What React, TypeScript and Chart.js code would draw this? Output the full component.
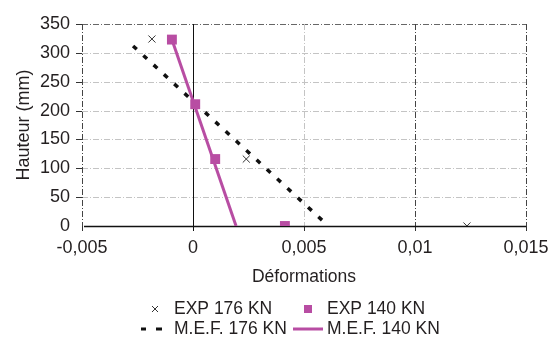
import React, { useEffect, useRef } from "react";
import { Chart, registerables } from "chart.js";

Chart.register(...registerables);

const exp176X = [-0.00185, 0.0024, 0.01234];
const exp176Y = [324, 116, 0];
const exp140X = [-0.00095, 0.0001, 0.001, 0.00414];
const exp140Y = [323, 211, 116, 0];
const mef176X = [-0.0027, 0.0061];
const mef176Y = [312, 0];
const mef140X = [-0.00095, 0.00194];
const mef140Y = [323, 0];

const seriesLabels = ["EXP 176 KN", "EXP 140 KN", "M.E.F. 176 KN", "M.E.F. 140 KN"];
const xTitle = "Déformations";
const yTitle = "Hauteur (mm)";

const MAGENTA = "#B84DA3";
const DARK = "#231F20";
const FONT = "'Liberation Sans', Arial, sans-serif";

const pts = (xs: number[], ys: number[]) => xs.map((x, i) => ({ x, y: ys[i] }));

const gridPlugin = {
  id: "customGrid",
  beforeDatasetsDraw(chart: any) {
    const { ctx, scales } = chart;
    const xs = scales.x;
    const ys = scales.y;
    const left = xs.left, right = xs.right, top = ys.top, bottom = ys.bottom;
    ctx.save();
    ctx.lineWidth = 1;
    ys.ticks.forEach((t: any) => {
      const y = Math.round(ys.getPixelForValue(t.value)) + 0.5;
      if (t.value === 0) return;
      const isTop = t.value === ys.max;
      ctx.strokeStyle = isTop ? "#666" : "#c4c4c4";
      ctx.setLineDash([6, 2, 1, 2]);
      ctx.beginPath();
      ctx.moveTo(left, y);
      ctx.lineTo(right, y);
      ctx.stroke();
      ctx.setLineDash([]);
      ctx.strokeStyle = "#333";
      ctx.beginPath();
      ctx.moveTo(left - 6, y);
      ctx.lineTo(left, y);
      ctx.stroke();
    });
    xs.ticks.forEach((t: any) => {
      const x = Math.round(xs.getPixelForValue(t.value)) + 0.5;
      const v = Math.round(t.value * 10000) / 10000;
      if (v === 0) return;
      const dark = v !== 0.005;
      ctx.strokeStyle = dark ? "#444" : "#c4c4c4";
      ctx.setLineDash([6, 2, 1, 2]);
      ctx.beginPath();
      ctx.moveTo(x, top);
      ctx.lineTo(x, bottom);
      ctx.stroke();
      ctx.setLineDash([]);
      ctx.strokeStyle = "#333";
      ctx.beginPath();
      ctx.moveTo(x, bottom);
      ctx.lineTo(x, bottom + 5);
      ctx.stroke();
    });
    ctx.setLineDash([]);
    const x0 = Math.round(xs.getPixelForValue(0)) + 0.5;
    ctx.strokeStyle = "#111";
    ctx.beginPath();
    ctx.moveTo(x0, top);
    ctx.lineTo(x0, bottom + 5);
    ctx.stroke();
    const y0 = Math.round(ys.getPixelForValue(0)) + 0.5;
    ctx.lineWidth = 1.3;
    ctx.beginPath();
    ctx.moveTo(left + 2, y0);
    ctx.lineTo(right, y0);
    ctx.stroke();
    ctx.restore();
  },
};

const legendPlugin = {
  id: "customLegend",
  afterDraw(chart: any) {
    const { ctx } = chart;
    ctx.save();
    ctx.font = `17.5px ${FONT}`;
    ctx.fillStyle = DARK;
    ctx.textBaseline = "middle";
    ctx.textAlign = "left";
    const row1 = 309;
    const row2 = 329;
    const col1Text = 174;
    const col2Text = 327;
    ctx.strokeStyle = "#333";
    ctx.lineWidth = 1;
    const cx = 155, cy = row1;
    ctx.beginPath();
    ctx.moveTo(cx - 3, cy - 3);
    ctx.lineTo(cx + 3, cy + 3);
    ctx.moveTo(cx + 3, cy - 3);
    ctx.lineTo(cx - 3, cy + 3);
    ctx.stroke();
    ctx.fillText(seriesLabels[0], col1Text, row1);
    ctx.fillStyle = MAGENTA;
    ctx.fillRect(304, row1 - 4, 8, 8);
    ctx.fillStyle = DARK;
    ctx.fillText(seriesLabels[1], col2Text, row1);
    ctx.strokeStyle = "#111";
    ctx.lineWidth = 3;
    ctx.beginPath();
    ctx.moveTo(141, row2);
    ctx.lineTo(146, row2);
    ctx.moveTo(156, row2);
    ctx.lineTo(162, row2);
    ctx.stroke();
    ctx.fillText(seriesLabels[2], col1Text, row2);
    ctx.strokeStyle = MAGENTA;
    ctx.beginPath();
    ctx.moveTo(293, row2);
    ctx.lineTo(323, row2);
    ctx.stroke();
    ctx.fillText(seriesLabels[3], col2Text, row2);
    ctx.restore();
  },
};

export default function App() {
  const ref = useRef<HTMLCanvasElement>(null);
  useEffect(() => {
    document.body.style.margin = "0";
    const chart = new Chart(ref.current as HTMLCanvasElement, {
      type: "scatter",
      data: {
        datasets: [
          {
            label: seriesLabels[2],
            data: pts(mef176X, mef176Y),
            showLine: true,
            borderColor: "#111",
            borderWidth: 3.5,
            borderDash: [5, 9],
            pointRadius: 0,
            order: 4,
          },
          {
            label: seriesLabels[3],
            data: pts(mef140X, mef140Y),
            showLine: true,
            borderColor: MAGENTA,
            borderWidth: 3,
            pointRadius: 0,
            order: 3,
          },
          {
            label: seriesLabels[0],
            data: pts(exp176X, exp176Y),
            showLine: false,
            pointStyle: "crossRot",
            pointRadius: 5,
            borderColor: "#333",
            borderWidth: 1,
            order: 2,
          },
          {
            label: seriesLabels[1],
            data: pts(exp140X, exp140Y),
            showLine: false,
            pointStyle: "rect",
            pointRadius: 7,
            backgroundColor: MAGENTA,
            borderColor: MAGENTA,
            borderWidth: 0,
            order: 1,
          },
        ],
      },
      options: {
        animation: false,
        responsive: false,
        layout: { padding: { top: 24, right: 24, left: 11, bottom: 50 } },
        plugins: { legend: { display: false }, tooltip: { enabled: false } },
        scales: {
          x: {
            type: "linear",
            min: -0.005,
            max: 0.015,
            grid: { display: false, drawTicks: false },
            border: { display: false },
            ticks: {
              stepSize: 0.005,
              padding: 11,
              color: DARK,
              font: { family: FONT, size: 18 },
              callback: (v: any) => {
                const r = Math.round(Number(v) * 1000) / 1000;
                return String(r).replace(".", ",");
              },
            },
            title: {
              display: true,
              text: xTitle,
              color: DARK,
              font: { family: FONT, size: 17.5 },
              padding: { top: 6, bottom: 0 },
            },
            afterFit: (s: any) => {
              s.height = 62;
              s.paddingRight = 0;
              s.paddingLeft = 0;
            },
          },
          y: {
            type: "linear",
            min: 0,
            max: 350,
            grid: { display: false, drawTicks: false },
            border: { display: false },
            ticks: {
              stepSize: 50,
              padding: 12,
              color: DARK,
              font: { family: FONT, size: 18 },
            },
            title: {
              display: true,
              text: yTitle,
              color: DARK,
              font: { family: FONT, size: 18 },
              padding: { top: 2, bottom: 4 },
            },
            afterFit: (s: any) => {
              s.width = 71;
              s.paddingTop = 0;
              s.paddingBottom = 0;
            },
          },
        },
      },
      plugins: [gridPlugin, legendPlugin],
    });
    return () => chart.destroy();
  }, []);
  return (
    <div style={{ position: "absolute", left: 0, top: 0, width: 550, height: 338 }}>
      <canvas ref={ref} width={550} height={338} style={{ width: 550, height: 338 }} />
    </div>
  );
}
